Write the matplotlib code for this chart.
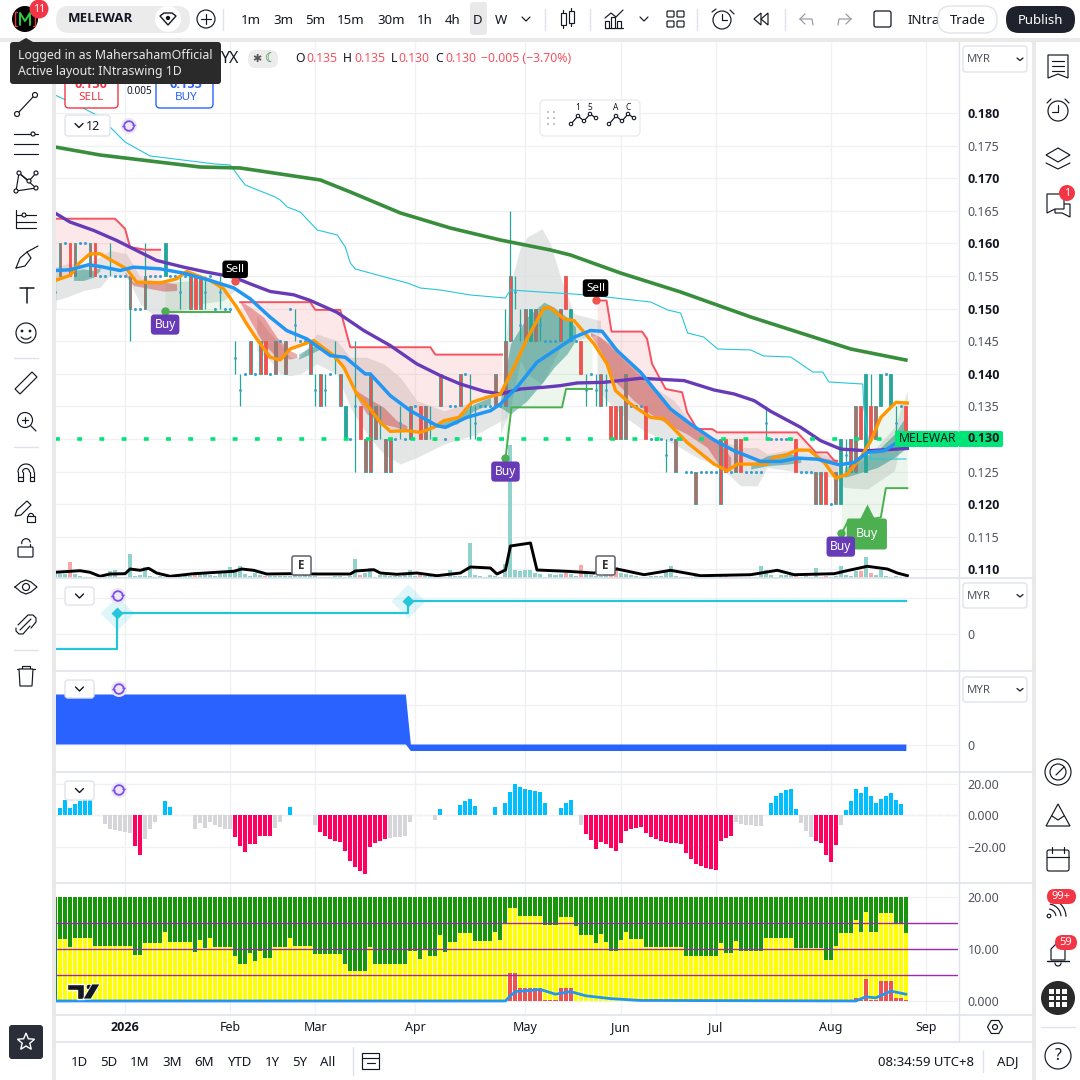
import numpy as np
import matplotlib
matplotlib.use("Agg")
import matplotlib.pyplot as plt
from matplotlib.patches import Circle, FancyBboxPatch, Rectangle, Polygon

plt.rcParams['font.family'] = ['Noto Sans', 'DejaVu Sans']

TEAL = '#26a69a'
RED = '#ef5350'
INK = '#131722'
SOFT = '#50535e'
GRID = '#f0f1f5'
BORDER = '#e0e3eb'
BOLD_FONT = 'Open Sans'

# candles, one character per bar: m mixed, r red, g teal, t thin, d dot
bar_kind = ("tmdrmddmrd" "dtdddmddmd" "ddgddtdmrm" "tddtddttdm" "dmrdmdmdtd"
            "dmtmtdtmgd" "trmmmtmmdt" "dmdrmtdmdd" "dmdttdddmd" "mmttmgmtdd"
            "dmrgdrtdtm" "trrmmdddrd" "ddtdmdddmd" "dddmrdmrdd" "ddtdddddrd"
            "ddmmrdmgtm" "mrgrmgdgtdr")
bar_top = [.155, .160, .160, .160, .160, .160, .160, .160, .160, .155,
           .155, .160, .155, .155, .155, .155, .150, .150, .155, .155,
           .155, .155, .160, .155, .155, .155, .155, .155, .155, .155,
           .155, .155, .150, .155, .150, .150, .145, .140, .140, .145,
           .140, .145, .145, .140, .145, .145, .145, .150, .150, .145,
           .145, .145, .140, .140, .140, .140, .145, .140, .135, .130,
           .145, .135, .130, .140, .135, .135, .130, .130, .130, .135,
           .130, .135, .135, .135, .135, .135, .130, .140, .130, .135,
           .135, .140, .140, .140, .135, .135, .135, .135, .140, .135,
           .145, .155, .155, .150, .150, .150, .150, .150, .145, .145,
           .145, .150, .155, .150, .145, .145, .140, .140, .140, .140,
           .140, .135, .135, .135, .140, .135, .135, .135, .135, .130,
           .130, .130, .130, .130, .130, .130, .125, .125, .125, .125,
           .125, .125, .125, .130, .130, .125, .130, .130, .125, .125,
           .125, .125, .135, .130, .130, .130, .130, .130, .130, .125,
           .125, .125, .125, .125, .125, .120, .125, .130, .130, .130,
           .135, .135, .140, .135, .135, .140, .140, .140, .135, .135, .135]
bar_bot = [.150, .155, .160, .155, .155, .160, .160, .155, .155, .155,
           .155, .155, .155, .155, .155, .150, .150, .150, .150, .155,
           .155, .155, .155, .155, .155, .150, .155, .150, .150, .150,
           .150, .155, .150, .150, .150, .150, .140, .135, .140, .140,
           .140, .140, .140, .140, .140, .145, .140, .150, .145, .145,
           .145, .140, .135, .135, .135, .140, .140, .135, .130, .130,
           .125, .130, .125, .125, .130, .130, .125, .125, .130, .130,
           .130, .130, .135, .130, .130, .130, .130, .135, .130, .135,
           .135, .135, .140, .130, .130, .135, .135, .135, .135, .135,
           .135, .145, .150, .145, .145, .145, .145, .145, .145, .145,
           .145, .145, .150, .145, .145, .140, .135, .140, .135, .135,
           .135, .130, .130, .130, .130, .135, .135, .135, .130, .130,
           .130, .130, .125, .130, .125, .130, .125, .125, .120, .125,
           .125, .125, .125, .120, .125, .125, .125, .125, .125, .125,
           .125, .125, .130, .130, .130, .130, .130, .130, .125, .125,
           .125, .125, .120, .120, .120, .120, .120, .120, .125, .125,
           .125, .130, .125, .130, .130, .135, .140, .135, .130, .135, .130]
wick_extra = {15: (.155, .145), 18: (.160, .150), 90: (.150, .135),
              91: (.165, .145), 163: (.140, .130)}

ma200_x = [0, 9, 19, 29, 37, 45, 53, 59, 69, 79, 89, 99, 103, 113, 125, 139, 149, 159, 170]
ma200_y = [.17479, .17356, .17264, .17172, .17157, .17065, .16973, .16789, .16467, .16236,
           .16052, .15899, .15822, .15546, .15255, .14872, .14626, .14381, .14212]

cyan_x = [0, 5.6, 9, 14, 19, 32, 35, 38, 44, 45, 46.4, 49, 52.4, 56.4, 58, 59, 60, 64.4,
          70.4, 73, 77, 83, 90, 91, 97, 106.6, 113.6, 119, 122.4, 125, 126.4, 129.6, 132.4,
          139, 141.6, 147, 151.4, 153.4, 154.6, 161.4, 161.6, 163, 170]
cyan_y = [.18276, .18077, .17939, .17555, .17341, .17218, .17203, .16896, .16712, .16666,
          .16559, .16482, .16206, .16129, .15945, .15700, .15608, .15516, .15393, .15316,
          .15286, .15209, .15163, .15286, .15255, .15209, .15148, .15102, .14979, .14933,
          .14626, .14565, .14381, .14366, .14274, .14258, .14028, .14028, .13875, .13844,
          .13491, .12694, .12694]

purple_x = [0, 3, 7.7, 12.3, 16.3, 20.3, 25.7, 30.3, 35.7, 39, 43, 47.7, 51, 56.3, 61.7, 67,
            72.3, 77, 81, 85.7, 89, 93, 97.7, 101, 104.3, 109.7, 117, 125.7, 131.7, 135.7,
            139.7, 143, 149, 153, 157, 162.3, 170.3]
purple_y = [.16466, .16328, .16200, .16046, .15892, .15739, .15636, .15560, .15483, .15380,
            .15263, .15212, .15125, .14945, .14664, .14433, .14152, .13973, .13844, .13732,
            .13691, .13768, .13794, .13819, .13860, .13870, .13932, .13896, .13752, .13691,
            .13589, .13425, .13179, .12974, .12846, .12820, .12856]

blue_x = [0, 3, 6.7, 9, 13, 15.7, 21, 25.7, 31, 35.7, 39, 43, 46.3, 50.3, 55, 58, 62, 63, 67,
          71, 76.3, 78, 82.3, 87, 89, 92.3, 96.3, 100.3, 103.7, 107, 109.3, 112.3, 117, 123,
          127, 131.7, 135.7, 141, 145, 148.3, 152.3, 156.7, 159.7, 162.3, 165.7, 170.3]
blue_y = [.15585, .15596, .15672, .15647, .15585, .15636, .15610, .15544, .15432, .15319,
          .15150, .14868, .14664, .14536, .14280, .14254, .13998, .13998, .13665, .13435,
          .13205, .13179, .13333, .13435, .13537, .13794, .14178, .14382, .14561, .14664,
          .14653, .14357, .14024, .13460, .13230, .12984, .12820, .12657, .12657, .12708,
          .12692, .12605, .12641, .12795, .12820, .13050]

orange_x = [0, 3, 4.7, 7, 9, 11.3, 14.3, 16.3, 21, 24.3, 26.3, 31, 33.7, 36.3, 38.3, 40.3, 43,
            45, 47, 51.7, 55.7, 57.7, 60.3, 62.7, 65, 67, 70.3, 73, 75.7, 77.7, 80.7, 83.3,
            86.3, 89, 91.7, 94.3, 97.7, 99, 101.7, 103.7, 107.7, 110.3, 112, 115, 119, 121.7,
            126.3, 131.7, 134.3, 136.3, 142.3, 143.7, 145.7, 148.3, 150.7, 153.7, 156, 158.3,
            161, 163, 165, 168, 170.3]
orange_y = [.15432, .15508, .15688, .15841, .15841, .15739, .15610, .15406, .15396, .15457,
            .15570, .15432, .15304, .15022, .14766, .14536, .14254, .14213, .14382, .14510,
            .14280, .14100, .13690, .13486, .13256, .13118, .13128, .13102, .13179, .13281,
            .13333, .13563, .13640, .13691, .14100, .14536, .15012, .15012, .14843, .14817,
            .14459, .14152, .13742, .13537, .13332, .13307, .12948, .12616, .12513, .12616,
            .12616, .12718, .12744, .12830, .12830, .12641, .12400, .12462, .12718, .12974,
            .13332, .13563, .13553]

stop_red = [
    ([0, 12, 14, 15, 18, 21], [.16379, .16379, .16225, .15944, .15903, .15903]),
    ([37, 51, 52, 57, 59, 75, 76, 89.3], [.15099, .15099, .14981, .14981, .14408, .14408, .14295, .14295]),
    ([108.3, 110.2, 111.2, 117.3, 118.3, 119.3, 122, 125.3, 126.3, 128.3, 131.3, 132.3, 148.3, 152, 154.3, 155.7, 156.3],
     [.15124, .15124, .14648, .14648, .14536, .14152, .13768, .13717, .13409, .13153, .13153, .13102, .13102, .12795, .12795, .12667, .12667]),
]
stop_green = [
    ([22, 35], [.14945, .14945]),
    ([90, 91.2, 101.3, 102.1, 107.3], [.12693, .13486, .13486, .13768, .13768]),
    ([157.1, 158.3, 165, 166, 170.3], [.11540, .11720, .11797, .12247, .12247]),
]

grey_bands = [
    ([0, 2.3, 5.7, 9, 11, 14.3, 17, 19.7, 22.3, 29, 33.7, 36],
     [.15636, .15688, .15688, .15790, .15892, .15841, .15483, .15432, .15406, .15432, .15380, .15329],
     [.15124, .15176, .15278, .15329, .15508, .15508, .15073, .14894, .14894, .15073, .15124, .15278]),
    ([40.3, 43, 45, 47, 49, 52.3, 56.3, 59, 62.3, 65.7, 69, 72.3, 77.7, 84.3, 90.3],
     [.14894, .14612, .14459, .14254, .14254, .14612, .14510, .14254, .14254, .14152, .13947, .13588, .13435, .13588, .13793],
     [.14356, .14203, .14000, .13973, .14000, .14152, .14000, .13486, .13076, .12769, .12616, .12718, .12923, .13076, .13333]),
    ([89, 91, 93, 94.3, 97.3, 99, 101, 103.7, 109],
     [.13486, .15380, .15944, .16097, .16225, .15995, .15483, .14920, .14817],
     [.13076, .13486, .14203, .14000, .13844, .14100, .14408, .14510, .14612]),
    ([108.3, 113, 117.7, 123.7, 128.3, 133, 137, 140.3, 142.3],
     [.14612, .14254, .13896, .13588, .13128, .12974, .12872, .12872, .12769],
     [.13742, .13384, .13128, .12923, .12718, .12564, .12283, .12283, .12564]),
    ([142.3, 149, 155.7, 157.7, 162.3, 167.7, 170.3],
     [.12769, .12872, .12718, .12513, .12718, .13179, .13742],
     [.12564, .12488, .12411, .12257, .12232, .12513, .13384]),
]
red_clouds = [
    ([14, 15.7, 21.7, 24.3], [.15560, .15406, .15406, .15380], [.15508, .15355, .15268, .15278]),
    ([37, 39, 41.7, 44.3, 47, 48.3], [.15124, .15022, .14868, .14561, .14356, .14305], [.15099, .14817, .14459, .14254, .14228, .14254]),
    ([59.7, 62.3, 65.7, 68.3, 70.3], [.13768, .13640, .13486, .13281, .13204], [.13716, .13384, .13230, .13179, .13128]),
    ([107, 109, 111.7, 115.7, 119, 123, 126.3, 130.3, 133, 135],
     [.14638, .14561, .14408, .14100, .13793, .13486, .13281, .13076, .12923, .12718],
     [.14587, .14356, .13896, .13588, .13384, .13204, .13076, .12872, .12564, .12513]),
    ([153, 156.3], [.12718, .12667], [.12641, .12616]),
]
teal_clouds = [
    ([3.7, 5.7, 7.7, 9], [.15585, .15610, .15585, .15636], [.15432, .15432, .15483, .15585]),
    ([48.7, 51, 53], [.14305, .14408, .14459], [.14228, .14305, .14382]),
    ([75.7, 80.3, 83.7, 87], [.13204, .13333, .13537, .13640], [.13179, .13230, .13435, .13537]),
    ([89, 91, 94.3, 97.7, 99.7, 102.3, 104],
     [.13588, .14459, .14868, .15099, .15022, .14868, .14715],
     [.13486, .13384, .13588, .13896, .14100, .14305, .14510]),
    ([139, 142.3, 146.3, 149], [.12616, .12744, .12795, .12718], [.12539, .12590, .12616, .12641]),
    ([157.7, 161, 164.3, 167.7, 170.3], [.12564, .12718, .12820, .13076, .13384], [.12411, .12488, .12564, .12718, .12872]),
]

volume = [4, 4, 4, 16, 4, 2, 1, 1, 0, 1,
          1, 7, 8, 1, 1, 24, 2, 3, 11, 2,
          1, 2, 1, 1, 3, 4, 2, 2, 3, 4,
          4, 3, 2, 6, 5, 11, 7, 12, 4, 2,
          5, 3, 2, 2, 2, 2, 2, 2, 3, 2,
          3, 2, 2, 1, 1, 1, 2, 2, 1, 2,
          19, 3, 5, 10, 1, 3, 3, 2, 2, 2,
          3, 8, 2, 3, 2, 2, 1, 1, 1, 8,
          2, 2, 2, 35, 3, 2, 1, 3, 2, 1,
          14, 133, 8, 7, 8, 8, 5, 4, 1, 4,
          3, 4, 5, 4, 2, 13, 4, 3, 2, 2,
          3, 4, 11, 5, 4, 3, 2, 1, 1, 2,
          2, 2, 6, 12, 2, 1, 1, 1, 2, 2,
          1, 1, 1, 3, 2, 1, 1, 1, 1, 1,
          1, 12, 8, 3, 1, 3, 3, 4, 4, 1,
          2, 1, 10, 1, 2, 1, 2, 12, 3, 2,
          7, 7, 21, 5, 3, 8, 2, 1, 2, 1, 1]
vol_ma_x = [0, 5, 7, 9, 11, 14, 15, 17, 18.7, 20.3, 23, 27.7, 32.3, 35.7, 37.3, 39.7, 42.3, 47,
            52.3, 59, 60, 63.7, 65, 68.3, 72.3, 76.3, 81, 83, 87, 88.3, 90, 91, 95, 96.3, 102.3,
            107.7, 112.3, 117.7, 123, 129, 139, 144.3, 147.7, 155.7, 157.7, 162.3, 166.3, 168.3, 170.3]
vol_ma_y = [5.7, 7.3, 5.7, 1.7, 4, 4.3, 9, 7.7, 9.7, 5, 1.7, 4.3, 5.7, 6.7, 9, 7.7, 4, 4.3,
            4, 4, 7, 8.3, 5, 3.7, 5, 2.3, 5, 11, 10, 4, 8, 32, 35, 8, 6.7,
            5, 9, 3.3, 7.7, 2.3, 3.3, 7.7, 3.3, 4.3, 6.7, 11.7, 9, 5, 2.3]

sell_i = [36, 108]
sell_p = [.15420, .15132]
buy_i = [22, 90, 157]
buy_p = [.14964, .12710, .11559]
flag_i = 162.2
flag_p = .11544
last_price = .130

signal_x = [0, 12.4, 12.4, 70.5, 70.5, 170]
signal_y = [-15, -15, 21, 21, 33, 33]
signal_turn_x = [12.4, 70.5]
signal_turn_y = [21, 33]

trend_x = [0, 70, 71, 170]
trend_top = [51, 51, 1, 1]
trend_bot = [1, 1, -5.5, -5.5]

hist = [0, 4.9, 9.5, 4.9, 7.4, 8.9, 9.7, 9.7, 0, 0,
        -5.5, -8.5, -9.5, -10.2, -10.6, -11.4, -19.5, -25, -14.8, -8.9,
        -4.2, 0, 9.3, 5.5, 0, 0, 0, 0, -8.9, -5.1,
        -8, -4.2, -5.9, -7.6, -8.5, -8.9, -13.8, -19.5, -23.3, -18.2,
        -18, -13.1, -13.1, -13.1, -8, -4.2, 0, 5.1, 0, 0,
        0, 0, -6.3, -10.6, -13.1, -15.2, -16.5, -16.9, -22.9, -29.2,
        -32.8, -35.3, -37, -20.1, -17.6, -16.3, -14.8, -14.4, -14, -13.8,
        -13.1, -4.2, 0, 0, 0, 0, -3.2, 4.2, 0, 0,
        0, 6.8, 9.3, 10.6, 6.1, 0, 0, 0, 5.3, 0,
        7.8, 14.8, 20.1, 18, 16.5, 16.1, 15.2, 14.8, 8, 0,
        0, 4.7, 7.8, 9.7, 0, -6.3, -12.1, -15.9, -21.6, -16.9,
        -18.4, -20.7, -22.9, -17.8, -9.9, -8.9, -8, -7.6, -11.4, -14,
        -15.2, -16.5, -16.9, -17.8, -17.8, -18.4, -24.1, -27.9, -30.7, -32.4,
        -33.7, -34.3, -34.9, -16.5, -14.6, -13.3, -4.4, -5.7, -6.3, -6.3,
        -7, -7, 0, 8, 11.9, 13.8, 15.7, 16.9, 4.2, -5.1,
        -10.2, -14, -16.5, -17.8, -25.4, -29.8, -19, -6.3, 3.6, 9.3,
        16.9, 13.8, 17.6, 11.9, 8, 10.6, 12.5, 14.4, 9.9, 7.4, 0]
hist_grey_runs = [(10, 15), (18, 20), (28, 35), (44, 45), (52, 52), (67, 71), (76, 76),
                  (105, 105), (136, 141), (149, 151), (157, 157)]

rsi_level = [0, 11.9, 11.9, 10.3, 12.05, 12.05, 12.05, 12.05, 10.5, 10.5,
             10.5, 10.5, 10.5, 10.5, 10.5, 10.5, 8.8, 8.8, 11.1, 11.1,
             11.1, 11.1, 13.2, 11.3, 11.3, 11.3, 11.3, 11.3, 9.4, 11.7,
             10.1, 12.05, 10.3, 10.3, 10.3, 10.3, 8.6, 7.05, 7.05, 9.2,
             7.6, 9.7, 8.2, 8.2, 10.3, 10.3, 10.3, 12.2, 10.5, 10.5,
             10.5, 10.5, 9, 9, 9, 9, 9, 9, 7.2, 5.7,
             5.7, 5.7, 5.7, 10.3, 7.2, 7.2, 7.2, 7.2, 7.2, 7.2,
             7.2, 9.6, 9.6, 8, 9.9, 8.6, 8.6, 12.6, 9.4, 11.3,
             11.3, 13, 13, 13, 11.5, 11.5, 11.5, 11.5, 13.2, 11.7,
             14.9, 17.8, 17.8, 16.3, 16.3, 16.3, 16.3, 16.3, 14.6, 14.6,
             14.6, 16.1, 16.1, 16.1, 14.4, 12.6, 12.6, 12.6, 11.1, 12.8,
             11.3, 9.7, 9.7, 11.7, 13.2, 11.9, 11.9, 11.9, 10.3, 10.3,
             10.3, 10.3, 10.3, 10.3, 10.3, 10.3, 8.6, 8.6, 8.6, 8.6,
             8.6, 8.6, 8.6, 11.1, 9.2, 9.2, 11.5, 9.7, 9.7, 9.7,
             9.7, 9.7, 12.05, 12.05, 12.05, 12.05, 12.05, 12.05, 10.1, 10.1,
             10.1, 10.1, 10.1, 10.1, 7.8, 7.8, 10.5, 13, 13, 13,
             15.5, 13.2, 17.2, 13.2, 13.2, 16.9, 16.9, 16.9, 14.9, 14.9, 13]
rsi_red_i = [91, 92, 93, 94, 95, 96, 97, 98, 99, 100, 101, 102, 103, 160, 161, 162, 163, 164, 165, 166, 167, 168, 169, 170]
rsi_red_v = [5.3, 5.3, 2.4, 2.4, 2.4, 2.4, 2.4, .1, .1, .1, 2.4, 2.4, 2.4, .6, .2, 4.2, .2, .2, 3.8, 3.8, 3.8, .5, .5, .2]
rsi_line_x = [0, 90, 91, 92, 97, 100, 103, 106, 111, 117, 160, 162, 164, 167, 170]
rsi_line_y = [0, 0, 1, 1.8, 2.2, 1.3, 1.8, 1, .45, .1, 0, .8, .6, 1.9, 1.3]

date_ticks = [14, 35, 52, 72, 94, 113, 132, 155, 174]
date_labels = ['2026', 'Feb', 'Mar', 'Apr', 'May', 'Jun', 'Jul', 'Aug', 'Sep']
price_ticks = [.110, .115, .120, .125, .130, .135, .140, .145, .150, .155, .160, .165, .170, .175, .180]
range_labels = ['1D', '5D', '1M', '3M', '6M', 'YTD', '1Y', '5Y', 'All']
range_px = [79, 109, 140, 172, 204, 239, 272, 300, 328]
interval_labels = ['1m', '3m', '5m', '15m', '30m', '1h', '4h', 'D', 'W']
interval_px = [251, 283, 315, 351, 391, 425, 453, 478, 501]

fig = plt.figure(figsize=(10.8, 10.8), dpi=100, facecolor='white')


def pane(top, bottom):
    # panes share one bar scale, bar i sits at 55 + 5.005 * i pixels
    ax = fig.add_axes([56 / 1080, 1 - bottom / 1080, 902 / 1080, (bottom - top) / 1080])
    ax.set_xlim((56 - 55) / 5.005, (958 - 55) / 5.005)
    for s in ax.spines.values():
        s.set_visible(False)
    ax.yaxis.tick_right()
    ax.tick_params(length=0, labelsize=9, labelcolor=SOFT, pad=7)
    ax.set_xticks(date_ticks)
    ax.set_xticklabels([])
    ax.grid(True, color=GRID, lw=1)
    ax.set_axisbelow(True)
    return ax


# main price pane
ax = pane(42, 578)
ax.set_ylim(.18 - 465 / 6521, .18 + 71 / 6521)
ax.set_yticks(price_ticks)
ax.set_yticklabels(['%.3f' % p for p in price_ticks])
for p, tl in zip(price_ticks, ax.get_yticklabels()):
    if round(p * 1000) % 10 == 0:
        tl.set_family(BOLD_FONT)
        tl.set_fontweight('bold')
        tl.set_color(INK)

for bx, bt, bb in grey_bands:
    ax.fill_between(bx, bt, bb, color='#d9dbdb', alpha=.7, lw=0, zorder=1)
for sx, sy in stop_red:
    g = np.linspace(sx[0], sx[-1], 200)
    ax.fill_between(g, np.interp(g, sx, sy), np.interp(g, orange_x, orange_y),
                    color=RED, alpha=.13, lw=0, zorder=1)
for sx, sy in stop_green:
    g = np.linspace(sx[0], sx[-1], 200)
    ax.fill_between(g, np.interp(g, sx, sy), np.interp(g, orange_x, orange_y),
                    color='#4caf50', alpha=.1, lw=0, zorder=1)
for bx, bt, bb in red_clouds:
    ax.fill_between(bx, bt, bb, color='#c62828', alpha=.38, lw=0, zorder=2)
for bx, bt, bb in teal_clouds:
    ax.fill_between(bx, bt, bb, color='#1f8a80', alpha=.48, lw=0, zorder=2)

# volume has its own scale, one unit is a pixel of the pane
vol = ax.inset_axes([0, 0, 1, 1], zorder=1.5)
vol.set_xlim(ax.get_xlim())
vol.set_ylim(0, 536)
vol.axis('off')
vol.patch.set_alpha(0)
vol_colors = ['#f7a9a7' if k == 'r' else '#92d2cc' for k in bar_kind]
vol.bar(range(171), volume, width=.8, color=vol_colors)

# candles
for i, k in enumerate(bar_kind):
    top, bot = bar_top[i], bar_bot[i]
    if k == 'd':
        ax.plot(i, top, 'o', ms=2.2, color='#3a9fd0', mec='none', zorder=3)
    elif k == 't':
        ax.vlines(i, bot, top, color=TEAL, lw=.9, zorder=3)
        ax.plot(i, (top + bot) / 2, 'o', ms=2, color='#3a9fd0', mec='none', zorder=3)
    else:
        if i in wick_extra:
            ax.vlines(i, wick_extra[i][1], wick_extra[i][0], color=TEAL, lw=.9, zorder=3)
        face = TEAL if k == 'g' else RED
        edge = RED if k == 'r' else TEAL
        ax.add_patch(Rectangle((i - .28, bot), .56, top - bot, fc=face, ec=edge, lw=.6, zorder=3))

for sx, sy in stop_red:
    ax.plot(sx, sy, color='#f7525f', lw=1.4, zorder=4)
for sx, sy in stop_green:
    ax.plot(sx, sy, color='#4caf50', lw=1.4, zorder=4)
ax.plot(cyan_x, cyan_y, color='#26c6da', lw=.8, zorder=4)
ax.plot(ma200_x, ma200_y, color='#388e3c', lw=2.6, zorder=5)
ax.plot(purple_x, purple_y, color='#673ab7', lw=2.4, zorder=5)
ax.plot(orange_x, orange_y, color='#ff9800', lw=2.4, zorder=6)
ax.plot(blue_x, blue_y, color='#2196f3', lw=2.5, zorder=7)
ax.plot([0, 170], [last_price, last_price], color='#00e676', lw=2.6, ls=(0, (1.35, 4.8)), zorder=8)
vol.plot(vol_ma_x, vol_ma_y, color='black', lw=2.1, zorder=9)

ax.plot(sell_i, sell_p, 'o', ms=6, color=RED, mec='none', zorder=9)
ax.plot(buy_i, buy_p, 'o', ms=6, color='#4caf50', mec='none', zorder=9)
ax.plot(flag_i, flag_p + .0032, '^', ms=13, color='#4caf50', mec='none', zorder=9)
ax.annotate('Buy', (flag_i, flag_p), ha='center', va='center', color='white', fontsize=9, zorder=9,
            bbox=dict(boxstyle='round,pad=.72,rounding_size=.2', fc='#4caf50', ec='none'))
for i, p in zip(sell_i, sell_p):
    ax.annotate('Sell', (i, p), xytext=(0, 8.6), textcoords='offset points', ha='center', va='center',
                color='white', fontsize=8.4, zorder=10,
                bbox=dict(boxstyle='round,pad=.28', fc='black', ec='none'))
for i, p in zip(buy_i, buy_p):
    ax.annotate('Buy', (i, p), xytext=(0, -9.8), textcoords='offset points', ha='center', va='center',
                color='white', fontsize=8.6, zorder=10,
                bbox=dict(boxstyle='round,pad=.3', fc='#673ab7', ec='none'))

# signal pane
ax2 = pane(579, 671)
ax2.set_ylim(-37, 55)
ax2.set_yticks([0, 36])
ax2.set_yticklabels(['0', ''])
ax2.plot(signal_x, signal_y, color='#26c6da', lw=1.6)
ax2.plot(signal_turn_x, signal_turn_y, 'D', ms=17, color='#26c6da', alpha=.15, mec='none')
ax2.plot(signal_turn_x, signal_turn_y, 'D', ms=6.5, color='#26c6da', mec='none')

# trend pane
ax3 = pane(672, 772)
ax3.set_ylim(-27, 73)
ax3.set_yticks([0, 40])
ax3.set_yticklabels(['0', ''])
ax3.fill_between(trend_x, trend_top, trend_bot, color='#2962ff', lw=0)

# histogram pane
ax4 = pane(773, 883)
ax4.set_ylim(-43, 26.8)
ax4.set_yticks([-20, 0, 20])
ax4.set_yticklabels(['\u221220.00', '0.000', '20.00'])
grey_bars = {j for a, b in hist_grey_runs for j in range(a, b + 1)}
hist_colors = ['#00bfff' if v > 0 else ('#d6d6da' if j in grey_bars else '#ff0060')
               for j, v in enumerate(hist)]
ax4.bar(range(171), hist, width=.8, color=hist_colors)
ax4.axhline(0, color='#e0e3eb', lw=1, ls=(0, (3, 2)), zorder=0)

# oscillator pane
ax5 = pane(884, 1015)
ax5.set_ylim(-2.7, 22.5)
ax5.set_yticks([0, 10, 20])
ax5.set_yticklabels(['0.000', '10.00', '20.00'])
ax5.bar(range(171), [20] * 171, width=.8, color='#169608')
ax5.bar(range(171), rsi_level, width=.8, color='#ffff00')
ax5.bar(rsi_red_i, rsi_red_v, width=.8, color=RED)
for lvl in (5, 10, 15):
    ax5.axhline(lvl, color='#9c27b0', lw=1)
ax5.plot(rsi_line_x, rsi_line_y, color='#2196f3', lw=2)
ax5.set_xticklabels(date_labels)
ax5.tick_params(axis='x', pad=4, labelcolor=INK)
ax5.get_xticklabels()[0].set_family(BOLD_FONT)
ax5.get_xticklabels()[0].set_fontweight('bold')

# application chrome, in screen pixels
ui = fig.add_axes([0, 0, 1, 1], zorder=20)
ui.set_xlim(0, 1080)
ui.set_ylim(1080, 0)
ui.axis('off')
ui.patch.set_alpha(0)


def box(x0, y0, x1, y1, fc='white', ec='none', r=4, lw=1, z=1):
    ui.add_patch(FancyBboxPatch((x0 + r, y0 + r), x1 - x0 - 2 * r, y1 - y0 - 2 * r,
                                boxstyle='round,pad=%g,rounding_size=%g' % (r, r),
                                fc=fc, ec=ec, lw=lw, zorder=z))


def line(pts, c=INK, lw=.85, z=3):
    ui.plot([p[0] for p in pts], [p[1] for p in pts], color=c, lw=lw, zorder=z, solid_capstyle='round')


def arc(x, y, r, a0, a1, c=INK, lw=.85, z=3):
    t = np.radians(np.linspace(a0, a1, 30))
    ui.plot(x + r * np.cos(t), y + r * np.sin(t), color=c, lw=lw, zorder=z, solid_capstyle='round')


def dot(x, y, r, fc='white', ec=INK, lw=.85, z=3):
    ui.add_patch(Circle((x, y), r, fc=fc, ec=ec, lw=lw, zorder=z))


def poly(pts, fc='white', ec=INK, lw=.85, z=4):
    ui.add_patch(Polygon(pts, fc=fc, ec=ec, lw=lw, zorder=z))


def label(x, y, s, size=9.5, c=INK, ha='center', weight='normal', z=5):
    fam = BOLD_FONT if weight != 'normal' else None
    ui.text(x, y + 1, s, fontsize=size, color=c, ha=ha, va='center', fontweight=weight, family=fam, zorder=z)


ui.add_patch(Rectangle((0, 0), 1080, 38, fc='white', ec='none'))
ui.add_patch(Rectangle((0, 38), 1080, 4, fc='#e9e9e9', ec='none'))
ui.add_patch(Rectangle((0, 42), 52, 1038, fc='white', ec='none'))
ui.add_patch(Rectangle((52, 42), 4, 1038, fc='#e9e9e9', ec='none'))
ui.add_patch(Rectangle((1032, 42), 4, 1038, fc='#e9e9e9', ec='none'))
ui.add_patch(Rectangle((1036, 42), 44, 1038, fc='white', ec='none'))
ui.add_patch(Rectangle((56, 1042), 976, 38, fc='white', ec='none'))
for yy in (578, 671, 772, 883, 1015, 1042):
    line([(56, yy), (1032, yy)], c=BORDER, lw=1.2, z=2)
line([(958.5, 42), (958.5, 1042)], c=BORDER, lw=1, z=2)

# top bar
dot(25, 19, 13, fc='black', ec='none')
line([(20, 25), (20, 13), (25, 21), (30, 13), (30, 25)], c='#2ecc40', lw=1.4)
line([(17, 12), (15, 12), (15, 26), (17, 26)], c='#e53935', lw=1)
line([(33, 12), (35, 12), (35, 26), (33, 26)], c='#e53935', lw=1)
dot(39, 9, 9.5, fc='#f23645', ec='none')
label(39, 8, '11', 7.5, 'white')
box(56, 6, 190, 33, fc='#ebebeb', r=13)
label(68, 18, 'MELEWAR', 9.5, INK, 'left', 'bold')
dot(168, 19, 13, fc='white', ec='none')
poly([(160, 16), (164, 13), (172, 13), (176, 16), (168, 25)], lw=1)
dot(168, 18, 2.2, fc=INK, ec='none', z=5)
dot(206, 19, 9, fc='white')
line([(201, 19), (211, 19)])
line([(206, 14), (206, 24)])
for px in (223, 545, 590, 697, 785):
    line([(px, 9), (px, 30)], c=BORDER, lw=1)
ui.add_patch(FancyBboxPatch((470, 2), 17, 33, boxstyle='round,pad=0,rounding_size=3', fc='#e9e9e9', ec='none', zorder=1))
for px, s in zip(interval_px, interval_labels):
    label(px, 19, s, 9.5)
line([(522, 17), (526, 21), (530, 17)])
line([(640, 17), (644, 21), (648, 17)])
# candle icon
for cx, y0, y1 in ((563, 13, 25), (571, 11, 23)):
    line([(cx, y0 - 3), (cx, y1 + 3)])
    ui.add_patch(Rectangle((cx - 2.5, y0), 5, y1 - y0, fc='white', ec=INK, lw=.85, zorder=4))
# indicators icon
line([(605, 28), (623, 28)])
line([(605, 18), (611, 13), (616, 17), (623, 10)])
for cx, t in ((607, 21), (613, 17), (619, 21)):
    ui.add_patch(Rectangle((cx - 2, t), 4, 28 - t, fc='white', ec=INK, lw=.85, zorder=4))
# layouts icon
for cx, cy in ((667, 11), (677, 11), (667, 21), (677, 21)):
    ui.add_patch(FancyBboxPatch((cx, cy), 7, 6, boxstyle='round,pad=0,rounding_size=1', fc='white', ec=INK, lw=.85, zorder=4))
# alert and replay
dot(722, 20, 9)
line([(722, 14), (722, 20), (727, 20)])
line([(716, 9), (712, 12)])
line([(730, 10), (734, 14)])
poly([(761, 13), (754, 19), (761, 25)])
poly([(768, 13), (761, 19), (768, 25)])
line([(800, 19), (805, 14)], c='#9598a1')
line([(800, 19), (805, 24)], c='#9598a1')
line([(800, 19), (812, 19), (813, 25)], c='#9598a1')
line([(851, 19), (846, 14)], c='#9598a1')
line([(851, 19), (846, 24)], c='#9598a1')
line([(851, 19), (839, 19), (838, 25)], c='#9598a1')
ui.add_patch(FancyBboxPatch((874, 11), 17, 16, boxstyle='round,pad=0,rounding_size=2', fc='white', ec=INK, lw=.9, zorder=4))
label(907, 19, 'INtra', 9.5, INK, 'left')
box(938, 6, 997, 33, fc='white', ec=BORDER, r=13, z=6)
label(967.5, 19, 'Trade', 9.5, INK, z=7)
box(1006, 6, 1075, 33, fc='#1e222d', r=13, z=6)
label(1040.5, 19, 'Publish', 9.5, 'white', z=7)

# legend row
label(229, 58, 'YX', 11.5, INK)
box(248, 50, 278, 68, fc='#ececec', r=8)
label(257, 58, '\u2731', 8, '#555555')
label(271, 58, '\u263e', 9, '#1b7d2c')
for px, s, c in ((295, 'O', INK), (306, '0.135', '#f7525f'), (343, 'H', INK), (354, '0.135', '#f7525f'),
                 (391, 'L', INK), (398, '0.130', '#f7525f'), (435, 'C', INK), (445, '0.130', '#f7525f'),
                 (481, '\u22120.005 (\u22123.70%)', '#f7525f')):
    label(px, 58, s, 8.8, c, 'left')
box(65, 74, 118, 108, fc='white', ec='#f23645', r=4, z=2)
label(91, 84, '0.130', 9.2, '#f23645', weight='bold', z=3)
label(91, 97, 'SELL', 8.4, '#f23645', z=3)
label(139, 90, '0.005', 7.2, INK, z=3)
box(156, 74, 213, 108, fc='white', ec='#2962ff', r=4, z=2)
label(186, 84, '0.135', 9.2, '#2962ff', weight='bold', z=3)
label(186, 97, 'BUY', 8.4, '#2962ff', z=3)

# tooltip sits over the legend boxes
box(10, 42, 221, 84, fc='#2a2a2a', r=3, z=7)
poly([(19, 42), (26, 38), (33, 42)], fc='#2a2a2a', ec='none', lw=0, z=7)
label(18, 54, 'Logged in as MahersahamOfficial', 8.9, '#e8e8e8', 'left', z=8)
label(18, 71, 'Active layout: INtraswing 1D', 8.9, '#e8e8e8', 'left', z=8)


def collapse(x0, y0, x1, y1):
    box(x0, y0, x1, y1, fc='white', ec=BORDER, r=3, z=4)
    cx = x0 + 14 if x1 - x0 > 32 else (x0 + x1) / 2
    cy = (y0 + y1) / 2
    line([(cx - 4, cy - 2), (cx, cy + 2), (cx + 4, cy - 2)], lw=1, z=5)


def sync(x, y):
    dot(x, y, 8, fc='#ece7f9', ec='none', z=4)
    arc(x, y, 4.8, 200, 350, c='#7e4fe8', lw=1.3, z=5)
    arc(x, y, 4.8, 20, 170, c='#7e4fe8', lw=1.3, z=5)
    poly([(x + 3, y - 1.2), (x + 7.2, y - 1.2), (x + 5.1, y + 1.6)], fc='#7e4fe8', ec='none', lw=0, z=5)
    poly([(x - 3, y + 1.2), (x - 7.2, y + 1.2), (x - 5.1, y - 1.6)], fc='#7e4fe8', ec='none', lw=0, z=5)


collapse(65, 115, 110, 136)
label(93, 125, '12', 9, INK, z=5)
sync(129, 126)
collapse(65, 587, 94, 605)
sync(118, 596)
collapse(65, 680, 94, 698)
sync(119, 689)
collapse(65, 781, 94, 800)
sync(119, 790)

# floating drawing toolbar
box(540, 100, 640, 136, fc='white', ec='#ececec', r=5, z=3)
for dx in (548, 554):
    for dy in (112, 118, 124):
        dot(dx, dy, 1, fc='#b2b5be', ec='none', z=4)
for x0, a, b in ((571, '1', '5'), (609, 'A', 'C')):
    line([(x0, 124), (x0 + 7, 116), (x0 + 13, 121), (x0 + 19, 114), (x0 + 25, 118)], lw=.9, z=4)
    for ox, oy in ((0, 124), (7, 116), (13, 121), (19, 114), (25, 118)):
        dot(x0 + ox, oy, 1.7, z=5, lw=.8)
    label(x0 + 7, 107, a, 6, INK)
    label(x0 + 19, 107, b, 6, INK)

# price axis extras
for y0, y1 in ((46, 72), (583, 608), (677, 702)):
    box(963, y0, 1027, y1, fc='white', ec=BORDER, r=3, z=4)
    label(967, (y0 + y1) / 2, 'MYR', 8.2, SOFT, 'left')
    line([(1017, (y0 + y1) / 2 - 1), (1020, (y0 + y1) / 2 + 1.5), (1023, (y0 + y1) / 2 - 1)], lw=.9, z=5)
ui.add_patch(Rectangle((895, 431), 63, 16, fc='#00e676', ec='none', zorder=6))
ui.add_patch(FancyBboxPatch((958, 431), 45, 16, boxstyle='round,pad=0,rounding_size=2', fc='#00e676', ec='none', zorder=6))
label(899, 438, 'MELEWAR', 8.8, INK, 'left', z=7)
label(968, 438, '0.130', 9, INK, 'left', 'bold', z=7)
for px in (301, 605):
    box(px - 9, 556, px + 10, 575, fc='white', ec='#5d606b', r=2, lw=1.1, z=5)
    label(px, 564.5, 'E', 8.4, '#333333', weight='bold', z=6)

# logo in the last pane
poly([(67, 984), (84, 984), (84, 999), (77, 999), (77, 990), (67, 990)], fc='#131722', ec='white', lw=1, z=6)
dot(89, 987, 2.8, fc='#131722', ec='white', lw=.6, z=6)
poly([(92, 984), (100, 984), (91, 999), (83, 999)], fc='#131722', ec='white', lw=.6, z=6)

# left toolbar
dot(17, 114, 2.5)
dot(35, 95, 2.5)
line([(19, 112), (33, 97)])
for yy in (134, 144, 154):
    line([(14, yy), (38, yy)])
dot(33, 134, 2, z=4)
line([(16, 191), (19, 173), (29, 181), (36, 173)])
line([(19, 173), (36, 188), (16, 191)])
for px, py in ((16, 191), (19, 173), (29, 181), (36, 173), (36, 188)):
    dot(px, py, 2, z=4)
line([(16, 210), (16, 228)])
line([(16, 215), (36, 215)])
line([(16, 222), (36, 222)])
line([(16, 228), (36, 228)])
dot(24, 215, 2, z=4)
line([(16, 268), (20, 258), (27, 252), (31, 258), (25, 266), (16, 268)])
line([(27, 252), (38, 246)])
line([(20, 288), (34, 288)], lw=1.1)
line([(27, 288), (27, 303)], lw=1.1)
dot(26, 333, 10)
dot(22, 331, .8, fc=INK, ec=INK)
dot(30, 331, .8, fc=INK, ec=INK)
line([(21, 337), (24, 339), (28, 339), (31, 337)])
for py in (358, 447, 650):
    line([(14, py), (38, py)], c=BORDER, lw=1)
poly([(15, 389), (32, 372), (37, 377), (20, 394)])
dot(25, 420, 7.5)
line([(31, 426), (36, 431)])
line([(22, 420), (28, 420)])
line([(25, 417), (25, 423)])
# magnet
arc(26, 472, 8, 180, 360)
arc(26, 472, 3.5, 180, 360)
line([(18, 472), (18, 481), (22.5, 481), (22.5, 472)])
line([(29.5, 472), (29.5, 481), (34, 481), (34, 472)])
line([(18, 477), (22.5, 477)])
line([(29.5, 477), (34, 477)])
# pencil with lock
poly([(15, 516), (17, 510), (27, 501), (31, 505), (21, 515)])
ui.add_patch(Rectangle((27, 516), 8, 6, fc='white', ec=INK, lw=.85, zorder=4))
arc(31, 516, 2.6, 180, 360)
# open lock
ui.add_patch(FancyBboxPatch((18, 547), 15, 10, boxstyle='round,pad=0,rounding_size=1', fc='white', ec=INK, lw=.85, zorder=4))
arc(26, 543, 4.3, 170, 350)
line([(30, 544), (30, 547)])
dot(25.5, 552, 1, fc=INK, ec=INK)
# eye
ui.plot([15, 21, 26, 31, 37, 31, 26, 21, 15], [587, 582, 580, 582, 587, 592, 594, 592, 587], color=INK, lw=.85)
dot(26, 587, 3.5)
# link
line([(20, 630), (31, 619)], lw=.85)
line([(18, 625), (28, 615), (33, 615), (36, 618), (36, 622), (31, 628)])
line([(16, 628), (16, 631), (19, 634), (23, 634), (30, 626)])
# trash
line([(17, 669), (35, 669)])
line([(22, 669), (22, 666), (30, 666), (30, 669)])
poly([(19, 669), (33, 669), (32, 686), (20, 686)])
box(9, 1025, 43, 1059, fc='#2a2e39', r=3)
star_t = np.linspace(-np.pi / 2, 1.5 * np.pi, 11)[:-1]
star_r = np.array([9, 4] * 5)
poly(np.c_[26 + star_r * np.cos(star_t), 1042 + star_r * np.sin(star_t)], fc='none', ec='white', lw=1)

# right toolbar
poly([(1048, 55), (1068, 55), (1068, 78), (1058, 74), (1048, 78)], z=3)
for yy in (61, 66, 71):
    line([(1052, yy), (1064, yy)])
dot(1058, 111, 10)
line([(1058, 105), (1058, 112), (1052, 112)])
line([(1047, 103), (1051, 99)])
line([(1065, 99), (1069, 103)])
line([(1046, 163), (1058, 169), (1070, 163)])
poly([(1046, 155), (1058, 148), (1070, 155), (1058, 162)], z=3)
poly([(1055, 204), (1070, 204), (1070, 217), (1062, 213), (1055, 213)], z=3)
poly([(1047, 194), (1064, 194), (1064, 209), (1055, 209), (1047, 213)], z=3)
dot(1067, 193, 8, fc='#f23645', ec='none', z=5)
label(1067, 192, '1', 7.5, 'white', z=6)
dot(1058, 772, 13)
dot(1058, 772, 8)
line([(1056, 775), (1064, 767)])
poly([(1046, 826), (1058, 804), (1070, 826)], z=3)
line([(1052, 816), (1058, 820), (1064, 816)])
ui.add_patch(FancyBboxPatch((1047, 850), 22, 21, boxstyle='round,pad=0,rounding_size=2', fc='white', ec=INK, lw=.85, zorder=3))
line([(1047, 857), (1069, 857)])
line([(1052, 847), (1052, 853)])
line([(1064, 847), (1064, 853)])
dot(1049, 916, 1.8)
arc(1048, 917, 8, 280, 350)
arc(1048, 917, 13, 280, 355)
arc(1048, 917, 18, 285, 358)
box(1047, 889, 1076, 904, fc='#f23645', r=7.5, z=5)
label(1061.5, 895.5, '99+', 8, 'white', z=6)
poly([(1051, 960), (1051, 949), (1058, 942), (1065, 949), (1065, 960)], z=3)
line([(1047, 961), (1069, 961)], lw=1)
arc(1058, 963, 3, 0, 180)
box(1055, 935, 1077, 950, fc='#f23645', r=7.5, z=5)
label(1066, 941.5, '59', 8, 'white', z=6)
dot(1058, 998, 17, fc='#2a2a2a', ec='none')
for ox in (-6.5, 0, 6.5):
    for oy in (-6.5, 0, 6.5):
        ui.add_patch(Rectangle((1058 + ox - 2.3, 998 + oy - 2.3), 4.6, 4.6, fc='white', ec='none', zorder=4))
line([(1041, 1027), (1075, 1027)], c=BORDER, lw=1)
dot(1058, 1056, 13)
label(1058, 1055, '?', 11.5)

# bottom bar
for px, s in zip(range_px, range_labels):
    label(px, 1061, s, 9.5)
line([(353, 1047), (353, 1075)], c=BORDER, lw=1)
ui.add_patch(Rectangle((362, 1053), 17, 16, fc='white', ec=INK, lw=.85, zorder=3))
line([(362, 1058), (379, 1058)])
line([(367, 1063), (375, 1063)])
label(974, 1061, '08:34:59 UTC+8', 9.5, INK, 'right')
line([(983, 1050), (983, 1072)], c=BORDER, lw=1)
label(1008, 1061, 'ADJ', 9.5)
hex_t = np.linspace(0, 2 * np.pi, 7)[:-1]
poly(np.c_[995 + 7.5 * np.cos(hex_t), 1027 + 7.5 * np.sin(hex_t)], z=3)
dot(995, 1027, 2.5)

fig.savefig('out.png', dpi=100)
